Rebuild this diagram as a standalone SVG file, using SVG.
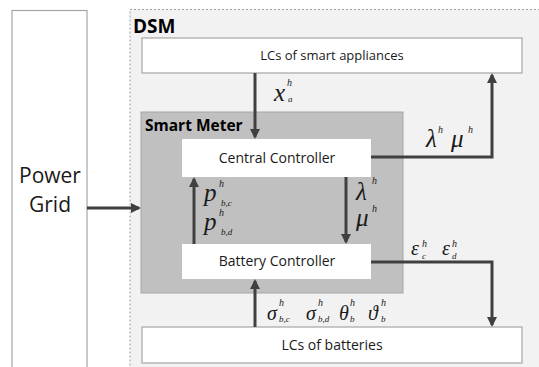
<svg xmlns="http://www.w3.org/2000/svg" width="539" height="367" viewBox="0 0 539 367">
<style>
.box{fill:#ffffff;stroke:#a6a6a6;stroke-width:1.2}
.lbl{font-family:"Open Sans","Liberation Sans",sans-serif;font-size:14px;fill:#1a1a1a;text-anchor:middle}
.bold{font-family:"Open Sans","Liberation Sans",sans-serif;font-weight:bold;fill:#000}
.m{font-family:"Liberation Serif","DejaVu Serif",serif;font-style:italic;fill:#1a1a1a}
.big{font-size:25px}
.mid{font-size:20px}
.sup{font-size:10px}
.sub{font-size:9px}
.conn{fill:none;stroke:#404040;stroke-width:3}
</style>
<defs>
<marker id="ah" markerWidth="10" markerHeight="10" refX="8" refY="5" orient="auto" markerUnits="userSpaceOnUse">
<path d="M0,0 L10,5 L0,10 Z" fill="#404040"/>
</marker>
</defs>
<rect width="539" height="367" fill="#ffffff"/>
<g id="power-grid">
<rect class="box" x="12" y="10.5" width="75" height="370"/>
<text class="lbl" x="50" y="183" style="font-size:21px">Power</text>
<text class="lbl" x="50" y="212" style="font-size:21px">Grid</text>
</g>
<g id="dsm">
<rect x="130" y="9.5" width="420" height="370" fill="#f2f2f2" stroke="#a0a0a0" stroke-width="1" stroke-dasharray="2,2"/>
<text class="bold" x="133" y="33" style="font-size:19px">DSM</text>
</g>
<g id="lcs-appliances">
<rect class="box" x="142" y="38" width="380" height="35"/>
<text class="lbl" x="332" y="60" style="font-size:13px">LCs of smart appliances</text>
</g>
<g id="smart-meter">
<rect x="141" y="112" width="262" height="181" fill="#c0c0c0" stroke="#a6a6a6" stroke-width="1"/>
<text class="bold" x="145" y="131" style="font-size:15.5px">Smart Meter</text>
</g>
<g id="central-controller">
<rect x="182" y="139" width="189" height="38" fill="#ffffff"/>
<text class="lbl" x="277" y="163">Central Controller</text>
</g>
<g id="battery-controller">
<rect x="182" y="244" width="189" height="35" fill="#ffffff"/>
<text class="lbl" x="277" y="266">Battery Controller</text>
</g>
<g id="lcs-batteries">
<rect class="box" x="142" y="327" width="380" height="36"/>
<text class="lbl" x="332" y="350">LCs of batteries</text>
</g>
<g id="connectors">
<line class="conn" x1="255" y1="73" x2="255" y2="137" marker-end="url(#ah)"/>
<polyline class="conn" points="371,157 492,157 492,75" marker-end="url(#ah)"/>
<line class="conn" x1="346" y1="177" x2="346" y2="242" marker-end="url(#ah)"/>
<line class="conn" x1="194" y1="244" x2="194" y2="179" marker-end="url(#ah)"/>
<polyline class="conn" points="371,262 492,262 492,325" marker-end="url(#ah)"/>
<line class="conn" x1="255" y1="327" x2="255" y2="281" marker-end="url(#ah)"/>
<line class="conn" x1="87" y1="208" x2="139" y2="208" marker-end="url(#ah)"/>
<text class="m big" x="274" y="101">x</text>
<text class="m sup" x="287" y="86">h</text>
<text class="m sub" x="288" y="102">a</text>
<text class="m big" x="426" y="147">λ</text>
<text class="m sup" x="438" y="133">h</text>
<text class="m big" x="451" y="147">μ</text>
<text class="m sup" x="468" y="133">h</text>
<text class="m big" x="204" y="201">p</text>
<text class="m sup" x="219" y="187">h</text>
<text class="m sub" x="221" y="206">b,c</text>
<text class="m big" x="204" y="230">p</text>
<text class="m sup" x="219" y="216">h</text>
<text class="m sub" x="221" y="235">b,d</text>
<text class="m big" x="356" y="200">λ</text>
<text class="m sup" x="372" y="184">h</text>
<text class="m big" x="356" y="226">μ</text>
<text class="m sup" x="372" y="212">h</text>
<text class="m mid" x="411" y="255">ε</text>
<text class="m sup" x="422" y="247">h</text>
<text class="m sub" x="422" y="259">c</text>
<text class="m mid" x="442" y="255">ε</text>
<text class="m sup" x="452" y="247">h</text>
<text class="m sub" x="452" y="259">d</text>
<text class="m mid" x="267" y="320">σ</text>
<text class="m sup" x="279" y="306">h</text>
<text class="m sub" x="279" y="322">b,c</text>
<text class="m mid" x="306" y="320">σ</text>
<text class="m sup" x="318" y="306">h</text>
<text class="m sub" x="318" y="322">b,d</text>
<text class="m mid" x="339" y="320">θ</text>
<text class="m sup" x="350" y="306">h</text>
<text class="m sub" x="350" y="322">b</text>
<text class="m mid" x="368" y="320">ϑ</text>
<text class="m sup" x="381" y="306">h</text>
<text class="m sub" x="381" y="322">b</text>
</g>
</svg>
